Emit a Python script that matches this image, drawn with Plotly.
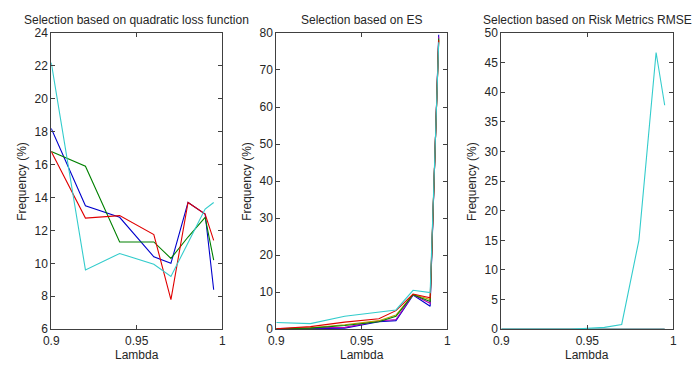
import plotly.graph_objects as go

lam = [0.90, 0.92, 0.94, 0.96, 0.97, 0.98, 0.99, 0.995]

# Panel 1: quadratic loss function
q_blue = [18.2, 13.5, 12.8, 10.4, 10.0, 13.7, 13.0, 8.4]
q_green = [16.8, 15.9, 11.3, 11.3, 10.3, 11.6, 12.8, 10.2]
q_red = [16.8, 12.75, 12.9, 11.75, 7.8, 13.7, 13.0, 11.4]
q_cyan = [22.2, 9.6, 10.6, 9.95, 9.2, 11.3, 13.3, 13.7]

# Panel 2: ES
e_blue = [0.0, 0.1, 0.3, 2.0, 2.3, 9.2, 6.2, 79.5]
e_green = [0.1, 0.3, 1.0, 2.0, 3.5, 9.3, 7.5, 78.5]
e_red = [0.1, 0.7, 1.9, 2.8, 5.0, 9.5, 8.5, 78.0]
e_cyan = [1.8, 1.5, 3.5, 4.7, 5.2, 10.5, 9.9, 77.5]
e_magenta = [0.2, 0.3, 0.5, 2.2, 2.6, 9.3, 7.0, 79.0]
e_olive = [0.1, 0.4, 1.2, 2.3, 3.8, 9.4, 8.0, 78.2]

# Panel 3: Risk Metrics RMSE
r_zero = [0.0, 0.0, 0.0, 0.0, 0.0, 0.0, 0.0, 0.0]
r_cyan = [0.0, 0.0, 0.0, 0.3, 0.8, 15.0, 46.7, 37.8]

titles = ["Selection based on quadratic loss function",
          "Selection based on ES",
          "Selection based on Risk Metrics RMSE"]
x_label = "Lambda"
y_label = "Frequency (%)"
x_ticks = [0.9, 0.95, 1.0]
x_tick_text = ["0.9", "0.95", "1"]
y1_ticks = [6, 8, 10, 12, 14, 16, 18, 20, 22, 24]
y2_ticks = [0, 10, 20, 30, 40, 50, 60, 70, 80]
y3_ticks = [0, 5, 10, 15, 20, 25, 30, 35, 40, 45, 50]

BLUE = "#0000cc"
GREEN = "#008000"
RED = "#e00000"
CYAN = "#33cccc"
MAGENTA = "#bb00bb"
OLIVE = "#bfa000"

fig = go.Figure()

def add(vals, color, ax):
    fig.add_trace(go.Scatter(x=lam, y=vals, mode="lines",
                             line=dict(color=color, width=1.1),
                             xaxis="x" + ax, yaxis="y" + ax,
                             showlegend=False, hoverinfo="skip"))

add(q_blue, BLUE, "")
add(q_green, GREEN, "")
add(q_red, RED, "")
add(q_cyan, CYAN, "")

add(e_blue, BLUE, "2")
add(e_magenta, MAGENTA, "2")
add(e_olive, OLIVE, "2")
add(e_green, GREEN, "2")
add(e_red, RED, "2")
add(e_cyan, CYAN, "2")

add(r_zero, BLUE, "3")
add(r_zero, GREEN, "3")
add(r_cyan, CYAN, "3")

font = dict(family="Liberation Sans, Arial, sans-serif", size=12, color="#262626")
axcol = "#404040"

W, H = 694, 366
ydom = [1 - 335 / H, 1 - 27 / H]
xpx = [(44, 218), (273, 447), (502, 677)]
xdoms = [[a / W, b / W] for a, b in xpx]

def xaxis(i):
    return dict(domain=xdoms[i], range=[0.9, 1.0], tickvals=x_ticks, ticktext=x_tick_text,
                ticks="inside", ticklen=4, tickcolor=axcol, mirror="ticks",
                showline=True, linecolor=axcol, linewidth=1, showgrid=False, zeroline=False,
                anchor="y" if i == 0 else "y" + str(i + 1), tickfont=font)

def yaxis(i, ticks, rng):
    return dict(domain=ydom, range=rng, tickvals=ticks,
                ticks="inside", ticklen=4, tickcolor=axcol, mirror="ticks",
                showline=True, linecolor=axcol, linewidth=1, showgrid=False, zeroline=False,
                anchor="x" if i == 0 else "x" + str(i + 1), tickfont=font)

annotations = []
for i, t in enumerate(titles):
    cx = (xdoms[i][0] + xdoms[i][1]) / 2
    annotations.append(dict(text=t, x=cx, y=1 - 13 / H,
                            xref="paper", yref="paper", showarrow=False,
                            xanchor="center", yanchor="middle", font=font))
    annotations.append(dict(text=x_label, x=cx, y=0, yshift=-5,
                            xref="paper", yref="paper", showarrow=False,
                            xanchor="center", yanchor="bottom", font=font))
    annotations.append(dict(text=y_label, x=(xpx[i][0] - 30) / W, y=(ydom[0] + ydom[1]) / 2,
                            xref="paper", yref="paper", showarrow=False, textangle=-90,
                            xanchor="center", yanchor="middle", font=font))

fig.update_layout(
    width=W, height=H,
    margin=dict(l=0, r=0, t=0, b=0),
    paper_bgcolor="white", plot_bgcolor="white",
    font=font,
    xaxis=xaxis(0), xaxis2=xaxis(1), xaxis3=xaxis(2),
    yaxis=yaxis(0, y1_ticks, [6, 24]),
    yaxis2=yaxis(1, y2_ticks, [0, 80]),
    yaxis3=yaxis(2, y3_ticks, [0, 50]),
    annotations=annotations,
)

fig.write_html("out.html")
